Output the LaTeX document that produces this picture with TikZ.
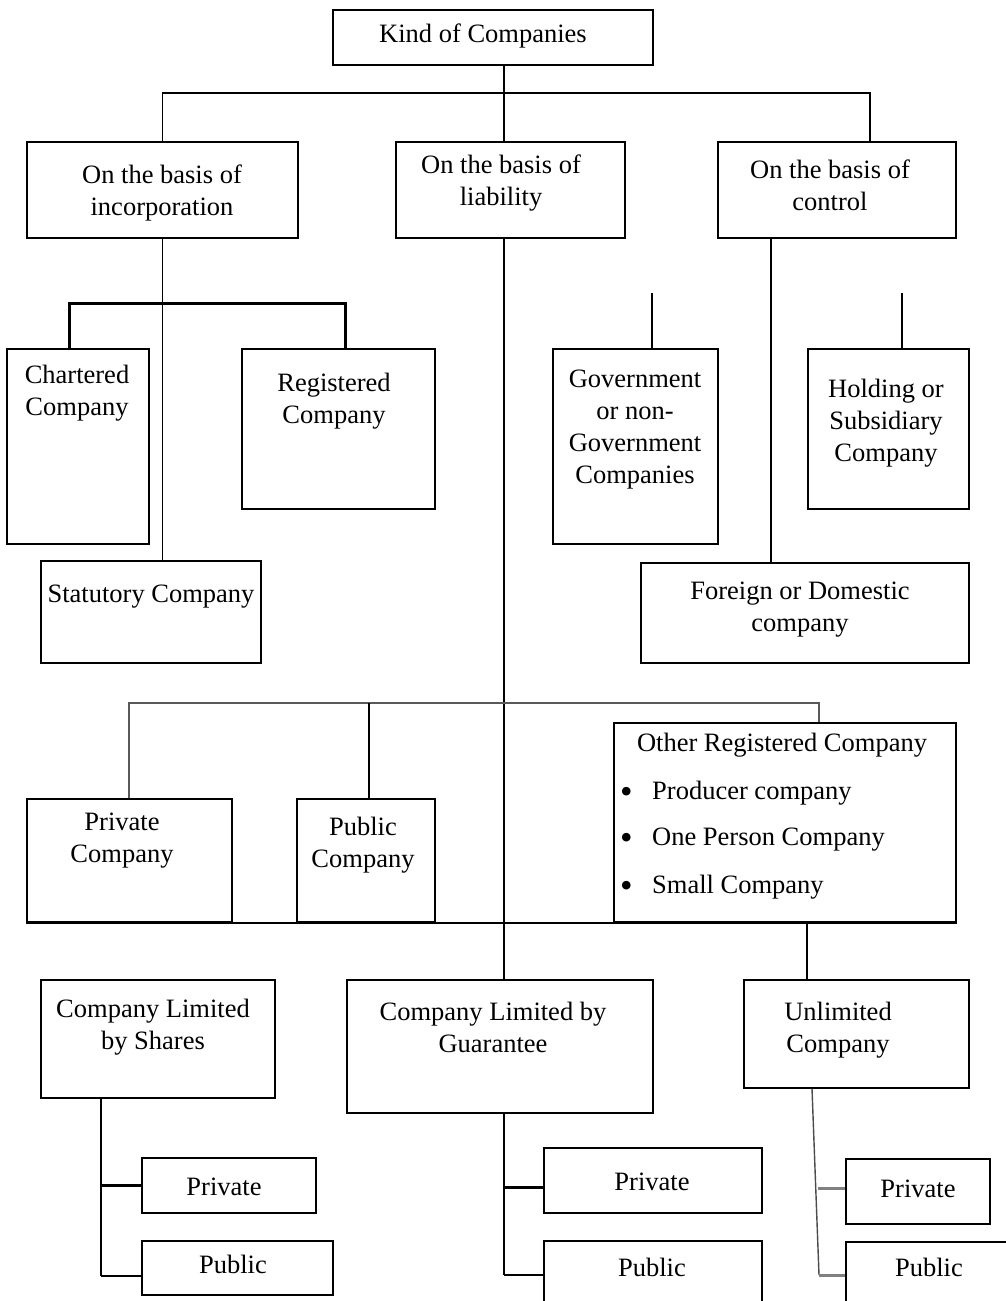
\documentclass[tikz,border=0pt]{standalone}
\usepackage{fontspec}
\setmainfont{Liberation Serif}
\usetikzlibrary{calc}
\newcommand{\bigbul}{\makebox[32pt][l]{\raisebox{-4pt}{\scalebox{1.35}{\textbullet}}}}
\begin{document}
\begin{tikzpicture}[x=1pt,y=-1pt,
  box/.style={draw, line width=1.6pt, anchor=north west, inner sep=0pt},
  txt/.style={align=center, inner sep=0pt, font=\fontsize{26.5}{32}\selectfont},
  conn/.style={line width=1.4pt},
  stub/.style={line width=2.4pt},
  bracket/.style={line width=3pt},
  graybus/.style={line width=2pt, draw=black!65},
  graystub/.style={line width=3pt, draw=black!50}]
\clip (0,0) rectangle (1006,1301);
\fill[white] (0,0) rectangle (1006,1301);
% boxes
\node[box, minimum width=320, minimum height=55] (kind) at (332,9) {};
\node[box, minimum width=271, minimum height=96] (inc) at (26,141) {};
\node[box, minimum width=229, minimum height=96] (liab) at (395,141) {};
\node[box, minimum width=238, minimum height=96] (ctrl) at (717,141) {};
\node[box, minimum width=142, minimum height=195] (char) at (6,348) {};
\node[box, minimum width=193, minimum height=160] (reg) at (241,348) {};
\node[box, minimum width=165, minimum height=195] (gov) at (552,348) {};
\node[box, minimum width=161, minimum height=160] (hold) at (807,348) {};
\node[box, minimum width=220, minimum height=102] (stat) at (40,560) {};
\node[box, minimum width=328, minimum height=100] (forn) at (640,562) {};
\node[box, minimum width=205, minimum height=123] (priv) at (26,798) {};
\node[box, minimum width=138, minimum height=123] (pub) at (296,798) {};
\node[box, minimum width=342, minimum height=199] (other) at (613,722) {};
\node[box, minimum width=234, minimum height=118] (shares) at (40,979) {};
\node[box, minimum width=306, minimum height=133] (guar) at (346,979) {};
\node[box, minimum width=225, minimum height=108] (unl) at (743,979) {};
\node[box, minimum width=174, minimum height=55] (p1) at (141,1157) {};
\node[box, minimum width=191, minimum height=54] (q1) at (141,1240) {};
\node[box, minimum width=218, minimum height=65] (p2) at (543,1147) {};
\node[box, minimum width=218, minimum height=100] (q2) at (543,1240) {};
\node[box, minimum width=144, minimum height=65] (p3) at (845,1158) {};
\node[box, minimum width=185, minimum height=99] (q3) at (845,1241) {};
% texts
\node[txt] (tkind) at (483,36) {Kind of Companies};
\node[txt] (tinc) at (162,193) {On the basis of\\incorporation};
\node[txt] (tliab) at (501,183) {On the basis of\\liability};
\node[txt] (tctrl) at (830,185) {On the basis of\\control};
\node[txt] (tchar) at (77,393) {Chartered\\Company};
\node[txt] (treg) at (334,401) {Registered\\Company};
\node[txt] (tgov) at (635,430) {Government\\or non-\\Government\\Companies};
\node[txt] (thold) at (886,423) {Holding or\\Subsidiary\\Company};
\node[txt] (tstat) at (151,597) {Statutory Company};
\node[txt] (tforn) at (800,610) {Foreign or Domestic\\company};
\node[txt] (tpriv) at (122,841) {Private\\Company};
\node[txt] (tpub) at (363,845) {Public\\Company};
\node[txt] (tother) at (782,745) {Other Registered Company};
\node[txt, anchor=west] (o1) at (620,793) {\bigbul Producer company};
\node[txt, anchor=west] (o2) at (620,840) {\bigbul One Person Company};
\node[txt, anchor=west] (o3) at (620,887) {\bigbul Small Company};
\node[txt] (tshares) at (153,1027) {Company Limited\\by Shares};
\node[txt] (tguar) at (493,1027) {Company Limited by\\Guarantee};
\node[txt] (tunl) at (838,1030) {Unlimited\\Company};
\node[txt] (tp1) at (224,1187) {Private};
\node[txt] (tq1) at (233,1264) {Public};
\node[txt] (tp2) at (652,1182) {Private};
\node[txt] (tq2) at (652,1267) {Public};
\node[txt] (tp3) at (918,1189) {Private};
\node[txt] (tq3) at (929,1267) {Public};
% connectors
\draw[conn] (inc.north) -- ++(0,-48) -| ($(ctrl.north west)+(153,0)$);
\draw[conn] ($(kind.south west)+(172,0)$) -- ($(liab.north west)+(109,0)$);
\draw[conn] (inc.south) -- (inc.south |- stat.north);
\draw[bracket] ($(char.north west)+(63,0)$) -- ++(0,-45) -| ($(reg.north west)+(104,0)$);
\draw[conn] ($(liab.south west)+(109,0)$) -- ($(guar.north west)+(158,0)$);
\coordinate (gtop) at (652,293);
\coordinate (htop) at (902,293);
\draw[conn] (gtop) -- (gtop |- gov.north);
\draw[conn] (htop) -- (htop |- hold.north);
\draw[conn] ($(ctrl.south west)+(54,0)$) coordinate (cs) -- (cs |- forn.north);
\draw[graybus] (priv.north) -- ++(0,-95) -| ($(other.north west)+(206,0)$);
\draw[conn] ($(pub.north west)+(73,0)$) -- ++(0,-95);
\draw[line width=1.8pt] (priv.south west) -- (other.south east);
\draw[conn] ($(other.south west)+(194,0)$) coordinate (ou) -- (ou |- unl.north);
% bottom branches
\draw[conn] ($(shares.south west)+(61,0)$) coordinate (ss) -- ($(q1.west)+(-40,8)$);
\draw[stub] (ss |- p1.west) -- (p1.west);
\draw[stub] ($(q1.west)+(-40,8)$) -- ($(q1.west)+(0,8)$);
\draw[conn] ($(guar.south west)+(158,0)$) coordinate (gs) -- ($(q2.north west)+(-39,35)$);
\draw[stub] ($(p2.west)+(-39,7)$) -- ($(p2.west)+(0,7)$);
\draw[stub] ($(q2.north west)+(-39,35)$) -- ($(q2.north west)+(0,35)$);
\draw[conn, draw=black!70] ($(unl.south west)+(69,0)$) -- ($(q3.north west)+(-26,34)$);
\draw[graystub] ($(p3.west)+(-27,-3)$) -- ($(p3.west)+(0,-3)$);
\draw[graystub] ($(q3.north west)+(-26,34)$) -- ($(q3.north west)+(0,34)$);
\end{tikzpicture}
\end{document}
